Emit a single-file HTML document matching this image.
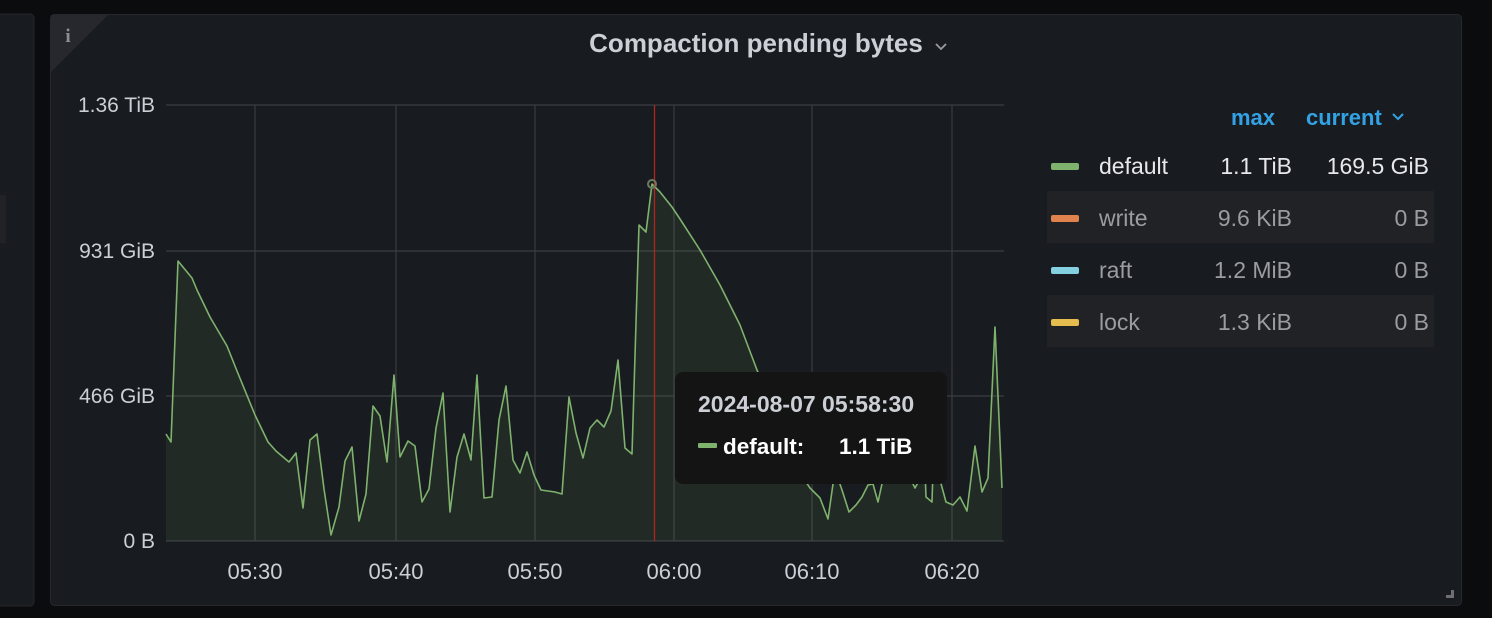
<!DOCTYPE html>
<html><head><meta charset="utf-8"><style>
html,body{margin:0;padding:0;background:#0b0c0e;width:1492px;height:618px;overflow:hidden;font-family:"Liberation Sans",sans-serif}
</style></head><body>
<svg width="1492" height="618" xmlns="http://www.w3.org/2000/svg" font-family="Liberation Sans, sans-serif">
<rect x="0" y="0" width="1492" height="618" fill="#0b0c0e"/>
<rect x="-10" y="14" width="44" height="592" rx="4" fill="#181b1f" stroke="#24262a"/>
<rect x="0" y="195" width="6" height="48" fill="#202226"/>
<rect x="50.5" y="14.5" width="1411" height="591" rx="4" fill="#181b1f" stroke="#25272b"/>
<path d="M51,15 L108,15 L51,72 Z" fill="#26282d"/>
<text x="68" y="42" font-size="19" font-weight="bold" fill="#8e8e92" text-anchor="middle" font-family="Liberation Serif, serif">i</text>
<text x="756" y="52" font-size="26" font-weight="bold" fill="#ccd0d6" text-anchor="middle">Compaction pending bytes</text>
<path d="M936,44 l5,5 l5,-5" stroke="#9a9ca1" stroke-width="1.8" fill="none"/>
<path d="M1446,598 h8 v-8 h-3 v5 h-5 z" fill="#6e6f73"/>
<g stroke="#3a3c40" stroke-width="1.2">
<line x1="166" y1="105" x2="1004" y2="105"/>
<line x1="166" y1="251" x2="1004" y2="251"/>
<line x1="166" y1="396" x2="1004" y2="396"/>
<line x1="166" y1="541" x2="1004" y2="541"/>
<line x1="255" y1="105" x2="255" y2="541"/>
<line x1="396" y1="105" x2="396" y2="541"/>
<line x1="535" y1="105" x2="535" y2="541"/>
<line x1="674" y1="105" x2="674" y2="541"/>
<line x1="812" y1="105" x2="812" y2="541"/>
<line x1="952" y1="105" x2="952" y2="541"/>
</g>
<g font-size="21" fill="#ccd0d6" text-anchor="end">
<text x="155" y="112">1.36 TiB</text>
<text x="155" y="258">931 GiB</text>
<text x="155" y="403">466 GiB</text>
<text x="155" y="548">0 B</text>
</g>
<g font-size="22" fill="#ccd0d6" text-anchor="middle">
<text x="255" y="579">05:30</text>
<text x="396" y="579">05:40</text>
<text x="535" y="579">05:50</text>
<text x="674" y="579">06:00</text>
<text x="812" y="579">06:10</text>
<text x="952" y="579">06:20</text>
</g>
<path id="d" d="M166,434 L171,442 L178,261 L192,278 L197,290 L210,317 L227,346 L237,371 L255,415 L268,442 L276,451 L289,462 L296,453 L303,508 L310,440 L317,434 L324,489 L331,535 L339,507 L345,461 L352,447 L359,521 L366,494 L373,406 L380,416 L387,462 L394,375 L400,457 L408,441 L415,446 L422,502 L429,489 L436,428 L443,393 L450,512 L457,457 L464,434 L471,460 L477,375 L484,498 L492,497 L499,420 L506,386 L513,460 L520,473 L527,452 L534,475 L541,490 L555,492 L562,494 L569,397 L576,433 L583,458 L590,428 L597,420 L604,427 L611,411 L618,360 L625,448 L632,454 L639,225 L646,232 L652,184 L660,192 L672,207 L680,219 L700,250 L720,285 L740,325 L757,370 L770,400 L785,440 L798,470 L810,488 L820,498 L828,519 L835,470 L842,490 L849,512 L856,505 L862,497 L868,485 L873,484 L878,502 L885,470 L895,480 L905,468 L915,488 L925,470 L926,497 L932,502 L933,470 L940,480 L946,502 L953,505 L960,497 L967,511 L975,446 L982,492 L988,478 L995,327 L1002,488" fill="none"/>
<path d="M166,434 L171,442 L178,261 L192,278 L197,290 L210,317 L227,346 L237,371 L255,415 L268,442 L276,451 L289,462 L296,453 L303,508 L310,440 L317,434 L324,489 L331,535 L339,507 L345,461 L352,447 L359,521 L366,494 L373,406 L380,416 L387,462 L394,375 L400,457 L408,441 L415,446 L422,502 L429,489 L436,428 L443,393 L450,512 L457,457 L464,434 L471,460 L477,375 L484,498 L492,497 L499,420 L506,386 L513,460 L520,473 L527,452 L534,475 L541,490 L555,492 L562,494 L569,397 L576,433 L583,458 L590,428 L597,420 L604,427 L611,411 L618,360 L625,448 L632,454 L639,225 L646,232 L652,184 L660,192 L672,207 L680,219 L700,250 L720,285 L740,325 L757,370 L770,400 L785,440 L798,470 L810,488 L820,498 L828,519 L835,470 L842,490 L849,512 L856,505 L862,497 L868,485 L873,484 L878,502 L885,470 L895,480 L905,468 L915,488 L925,470 L926,497 L932,502 L933,470 L940,480 L946,502 L953,505 L960,497 L967,511 L975,446 L982,492 L988,478 L995,327 L1002,488 L1002,541 L166,541 Z" fill="#7eb26d" fill-opacity="0.1" stroke="none"/>
<use href="#d" stroke="#7eb26d" stroke-width="1.6" stroke-linejoin="round"/>
<line x1="654.5" y1="105" x2="654.5" y2="541" stroke="#b0261f" stroke-width="1.3"/>
<circle cx="652" cy="184" r="4" fill="none" stroke="#6d7a62" stroke-width="2"/>
<rect x="675" y="372" width="272" height="112" rx="8" fill="#141414"/>
<text x="698" y="412" font-size="23" font-weight="bold" fill="#ccd0d6">2024-08-07 05:58:30</text>
<rect x="698" y="443" width="19" height="5" rx="1" fill="#7eb26d"/>
<text x="723" y="454" font-size="22.5" font-weight="bold" fill="#ffffff">default:</text>
<text x="839" y="454" font-size="22.5" font-weight="bold" fill="#ffffff">1.1 TiB</text>
<rect x="1047" y="191" width="387" height="52" fill="#202226"/>
<rect x="1047" y="295" width="387" height="52" fill="#202226"/>
<g font-size="22" fill="#33a2e5" font-weight="bold">
<text x="1231" y="125">max</text>
<text x="1306" y="125">current</text>
</g>
<path d="M1393,114 l5,5 l5,-5" stroke="#33a2e5" stroke-width="2" fill="none"/>
<g>
<rect x="1051" y="163" width="28" height="7" rx="2" fill="#7eb26d"/>
<rect x="1051" y="215" width="28" height="7" rx="2" fill="#e0834d"/>
<rect x="1051" y="267" width="28" height="7" rx="2" fill="#84cfe0"/>
<rect x="1051" y="319" width="28" height="7" rx="2" fill="#e5bd4f"/>
</g>
<g font-size="23">
<text x="1099" y="174" fill="#e6e8eb">default</text>
<text x="1292" y="174" fill="#e6e8eb" text-anchor="end">1.1 TiB</text>
<text x="1429" y="174" fill="#e6e8eb" text-anchor="end">169.5 GiB</text>
<text x="1099" y="226" fill="#9a9ca1">write</text>
<text x="1292" y="226" fill="#9a9ca1" text-anchor="end">9.6 KiB</text>
<text x="1429" y="226" fill="#9a9ca1" text-anchor="end">0 B</text>
<text x="1099" y="278" fill="#9a9ca1">raft</text>
<text x="1292" y="278" fill="#9a9ca1" text-anchor="end">1.2 MiB</text>
<text x="1429" y="278" fill="#9a9ca1" text-anchor="end">0 B</text>
<text x="1099" y="330" fill="#9a9ca1">lock</text>
<text x="1292" y="330" fill="#9a9ca1" text-anchor="end">1.3 KiB</text>
<text x="1429" y="330" fill="#9a9ca1" text-anchor="end">0 B</text>
</g>
</svg>
</body></html>
